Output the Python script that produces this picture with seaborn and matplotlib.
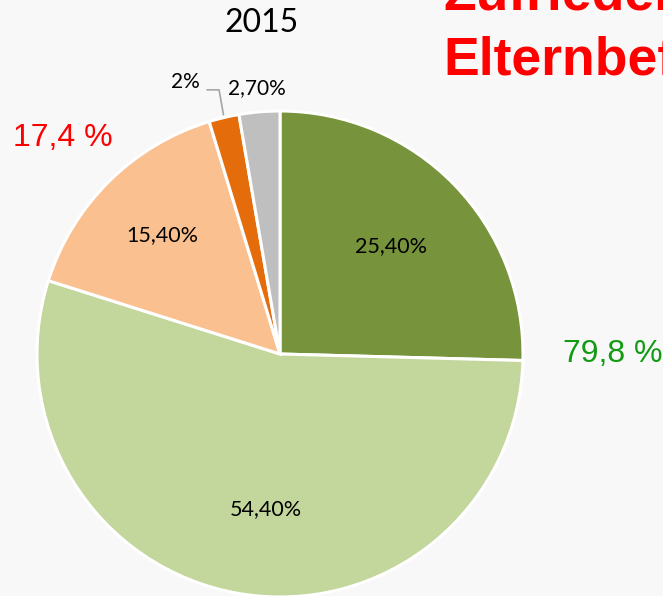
import numpy as np
import matplotlib
matplotlib.use("Agg")
import matplotlib.pyplot as plt
import seaborn as sns

# Daten 2015 (Anteile in %), im Uhrzeigersinn ab 12 Uhr
categories = ['sehr zufrieden', 'zufrieden', 'eher zufrieden', 'eher unzufrieden', 'unzufrieden']
values = [25.4, 54.4, 15.4, 2.0, 2.7]
value_labels = ['25,40%', '54,40%', '15,40%', '2%', '2,70%']
colors = ['#77933c', '#c3d69b', '#fac090', '#e46c0a', '#bfbfbf']

title = '2015'
headline = ['Zufriedenheit', 'Elternbefragung']
sum_left = '17,4 %'
sum_right = '79,8 %'

sns.set_theme(style='white')
plt.rcParams['font.family'] = ['Lato', 'DejaVu Sans']
bg = '#f8f8f8'

fig = plt.figure(figsize=(6.63, 5.96), dpi=100, facecolor=bg)
ax = fig.add_axes([37 / 663, -1 / 596, 486 / 663, 486 / 596])
ax.set_facecolor(bg)

wedges, _ = ax.pie(values, colors=colors, startangle=90, counterclock=False,
                   wedgeprops=dict(edgecolor='white', linewidth=2.2))
ax.set_xlim(-1, 1)
ax.set_ylim(-1, 1)
ax.set_aspect('equal')
ax.axis('off')

# Beschriftungen der Segmente (Radius, Winkelversatz in Grad)
label_r = [0.635, 0.64, 0.69]
label_shift = [0, 4.5, 0]
for w, txt, r, s in zip(wedges[:3], value_labels[:3], label_r, label_shift):
    t = np.deg2rad((w.theta1 + w.theta2) / 2 + s)
    ax.text(r * np.cos(t), r * np.sin(t), txt, ha='center', va='center',
            fontsize=15.5, color='black')

# kleine Segmente: außen
w = wedges[4]
t = np.deg2rad((w.theta1 + w.theta2) / 2)
ax.text(1.1 * np.cos(t), 1.1 * np.sin(t), value_labels[4], ha='center', va='center',
        fontsize=15, color='black', clip_on=False)

w = wedges[3]
t = np.deg2rad((w.theta1 + w.theta2) / 2)
ax.annotate(value_labels[3], xy=(np.cos(t), np.sin(t)),
            xytext=(-0.39, 1.12), ha='center', va='center', fontsize=15,
            color='black', annotation_clip=False,
            arrowprops=dict(arrowstyle='-', color='#a6a6a6', lw=1.2,
                            connectionstyle='angle,angleA=0,angleB=100,rad=0',
                            relpos=(1.0, 0.1), shrinkA=3, shrinkB=2))

fig.text(262 / 663, 1 - 23 / 596, title, ha='center', va='center', fontsize=23,
         color='black')

fig.text(443 / 663, 1 - 10 / 596, headline[0], ha='left', va='baseline',
         fontsize=38.5, fontweight='bold', color='#ff0000', family='Liberation Sans')
fig.text(443 / 663, 1 - 75 / 596, headline[1], ha='left', va='baseline',
         fontsize=38.5, fontweight='bold', color='#ff0000', family='Liberation Sans')

fig.text(13 / 663, 1 - 146 / 596, sum_left, ha='left', va='baseline',
         fontsize=23, color='#ff0000', family='Liberation Sans')
fig.text(563 / 663, 1 - 362 / 596, sum_right, ha='left', va='baseline',
         fontsize=23, color='#129b12', family='Liberation Sans')

fig.savefig('out.png', dpi=100, facecolor=bg)
